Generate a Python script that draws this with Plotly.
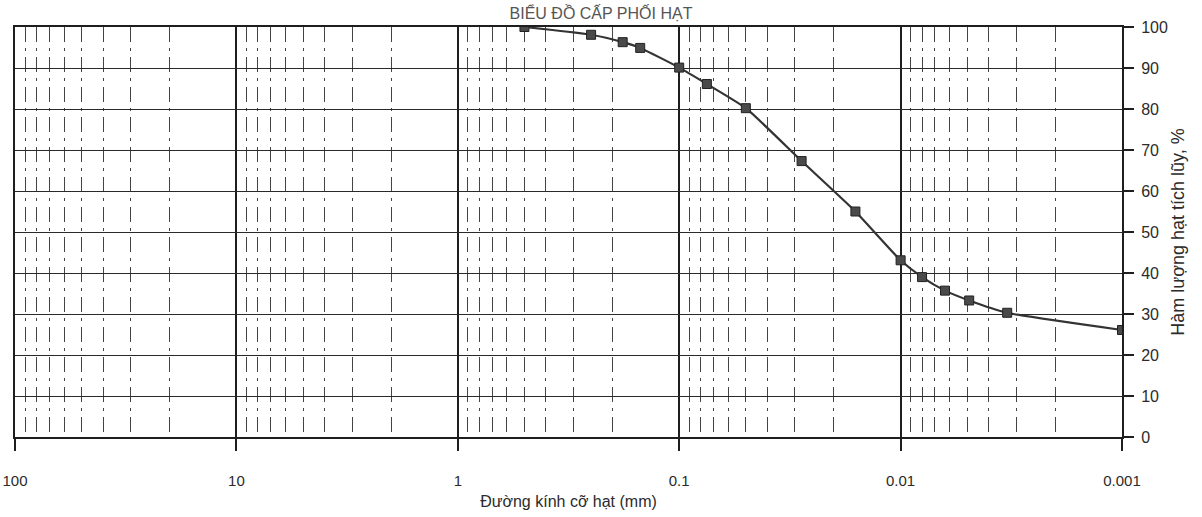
import plotly.graph_objects as go

# Grain diameter (mm) and cumulative passing (%)
diameter_mm = [0.5, 0.25, 0.18, 0.15, 0.1, 0.075, 0.05, 0.028, 0.016, 0.01,
               0.008, 0.0063, 0.0049, 0.0033, 0.001]
passing_pct = [100, 98.1, 96.3, 94.9, 90.1, 86.1, 80.2, 67.3, 55.0, 43.1,
               39.0, 35.7, 33.3, 30.3, 26.1]

x_tick_vals = [100, 10, 1, 0.1, 0.01, 0.001]
x_tick_text = ["100", "10", "1", "0.1", "0.01", "0.001"]
y_tick_vals = [0, 10, 20, 30, 40, 50, 60, 70, 80, 90, 100]

title_text = "BIỂU ĐỒ CẤP PHỐI HẠT"
x_title = "Đường kính cỡ hạt (mm)"
y_title = "Hàm lượng hạt tích lũy, %"

font_family = "Liberation Sans, Arial, sans-serif"
ink = "#2b2b2b"

fig = go.Figure()
fig.add_trace(go.Scatter(
    x=diameter_mm, y=passing_pct,
    mode="lines+markers",
    line=dict(color="#333333", width=2.2, shape="spline", smoothing=0.5),
    marker=dict(symbol="square", size=9, color="#4a4a4a",
                line=dict(color="#222222", width=1)),
    showlegend=False,
))

fig.update_layout(
    width=1202, height=517,
    paper_bgcolor="white", plot_bgcolor="white",
    margin=dict(l=15, r=80, t=27, b=80),
    font=dict(family=font_family, size=16, color=ink),
    title=dict(text=title_text, x=0.5, xanchor="center", y=0.985,
               yanchor="top", yref="container",
               font=dict(size=16, color="#555555")),
    xaxis=dict(
        type="log", range=[2, -3], automargin=False,
        tickvals=x_tick_vals, ticktext=x_tick_text,
        showgrid=True, gridcolor="#1e1e1e", gridwidth=1.8,
        showline=True, linecolor="#1e1e1e", linewidth=2, mirror=True,
        ticks="outside", ticklen=12, tickwidth=1.5, tickcolor="#1e1e1e",
        ticklabelstandoff=17,
        tickfont=dict(size=15, color=ink),
        minor=dict(showgrid=True, dtick="D1", gridcolor="#444444",
                   gridwidth=1, griddash="longdashdot", ticks=""),
        title=dict(text=x_title, standoff=8, font=dict(size=16, color=ink)),
        zeroline=False,
    ),
    yaxis=dict(
        range=[0, 100], side="right",
        tickvals=y_tick_vals,
        showgrid=True, gridcolor="#2a2a2a", gridwidth=1.2,
        showline=True, linecolor="#1e1e1e", linewidth=2, mirror=True,
        ticks="outside", ticklen=10, tickwidth=1.5, tickcolor="#1e1e1e",
        ticklabelstandoff=4,
        tickfont=dict(size=16, color=ink),
        title=dict(text=y_title, standoff=4, font=dict(size=18, color=ink)),
        zeroline=False,
    ),
)

fig.write_html("out.html")
